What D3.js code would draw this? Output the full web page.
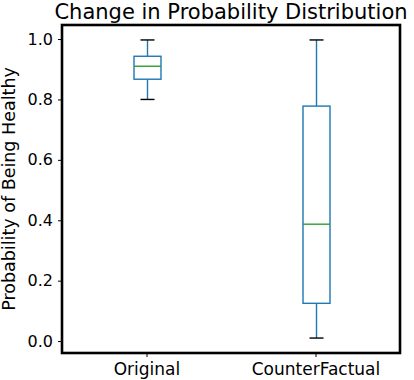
<!DOCTYPE html>
<html>
<head>
<meta charset="utf-8">
<script src="https://cdn.jsdelivr.net/npm/d3@7.9.0/dist/d3.min.js"></script>
<style>
  body { margin: 0; background: #fff; }
  text { font-family: "DejaVu Sans", sans-serif; fill: #000; }
</style>
</head>
<body>
<svg id="chart" width="414" height="380"></svg>
<script>
// box statistics
const categories = ['Original', 'CounterFactual'];
const whiskerLow = [0.80, 0.01];
const q1 = [0.867, 0.125];
const median = [0.91, 0.387];
const q3 = [0.943, 0.778];
const whiskerHigh = [0.997, 0.997];
const yTicks = [0.0, 0.2, 0.4, 0.6, 0.8, 1.0];

const boxes = categories.map((c, i) => ({
  label: c, lo: whiskerLow[i], q1: q1[i], med: median[i], q3: q3[i], hi: whiskerHigh[i]
}));

const margin = { top: 25, right: 14, bottom: 27, left: 62 };
const width = 414, height = 380;
const svg = d3.select('#chart');

const x = d3.scaleLinear().domain([0.5, 2.5]).range([margin.left, width - margin.right]);
const y = d3.scaleLinear().domain([-0.0395, 1.0465]).range([height - margin.bottom, margin.top]);

const boxW = 27, capW = 14;
const blue = '#1f77b4';

const g = svg.append('g');

boxes.forEach((d, i) => {
  const cx = Math.round(x(i + 1)) + 0.5;
  // whiskers
  g.append('line').attr('x1', cx).attr('x2', cx)
    .attr('y1', y(d.hi)).attr('y2', y(d.q3))
    .attr('stroke', blue).attr('stroke-width', 1.4);
  g.append('line').attr('x1', cx).attr('x2', cx)
    .attr('y1', y(d.q1)).attr('y2', y(d.lo))
    .attr('stroke', blue).attr('stroke-width', 1.4);
  // caps
  [d.hi, d.lo].forEach((v) => {
    g.append('line').attr('x1', cx - capW / 2).attr('x2', cx + capW / 2)
      .attr('y1', y(v)).attr('y2', y(v))
      .attr('stroke', '#000').attr('stroke-width', 1.4);
  });
  // box
  g.append('rect')
    .attr('x', cx - boxW / 2).attr('width', boxW)
    .attr('y', y(d.q3)).attr('height', y(d.q1) - y(d.q3))
    .attr('fill', 'none').attr('stroke', blue).attr('stroke-width', 1.4);
  // median
  g.append('line').attr('x1', cx - boxW / 2).attr('x2', cx + boxW / 2)
    .attr('y1', y(d.med)).attr('y2', y(d.med))
    .attr('stroke', '#2ca02c').attr('stroke-width', 1.4);
});

// axes
const yAxis = d3.axisLeft(y).tickValues(yTicks).tickFormat(d3.format('.1f')).tickSize(4).tickPadding(5);
const yg = svg.append('g').attr('transform', `translate(${margin.left},0)`).call(yAxis);
yg.select('.domain').remove();
yg.selectAll('text').style('font-size', '16px').style('font-family', '"DejaVu Sans", sans-serif');

const xAxis = d3.axisBottom(x).tickValues([1, 2]).tickFormat((d) => categories[d - 1]).tickSize(4).tickPadding(6);
const xg = svg.append('g').attr('transform', `translate(0,${height - margin.bottom})`).call(xAxis);
xg.select('.domain').remove();
xg.selectAll('text').style('font-size', '17px').style('font-family', '"DejaVu Sans", sans-serif');

// frame
svg.append('rect')
  .attr('x', margin.left).attr('y', margin.top)
  .attr('width', width - margin.left - margin.right)
  .attr('height', height - margin.top - margin.bottom)
  .attr('fill', 'none').attr('stroke', '#000').attr('stroke-width', 2.6);

// title
svg.append('text')
  .attr('x', (margin.left + width - margin.right) / 2)
  .attr('y', 18.5)
  .attr('text-anchor', 'middle')
  .style('font-size', '21px')
  .text('Change in Probability Distribution');

// y label
svg.append('text')
  .attr('transform', `translate(14.5,${(margin.top + height - margin.bottom) / 2}) rotate(-90)`)
  .attr('text-anchor', 'middle')
  .style('font-size', '17.5px')
  .text('Probability of Being Healthy');
</script>
</body>
</html>
